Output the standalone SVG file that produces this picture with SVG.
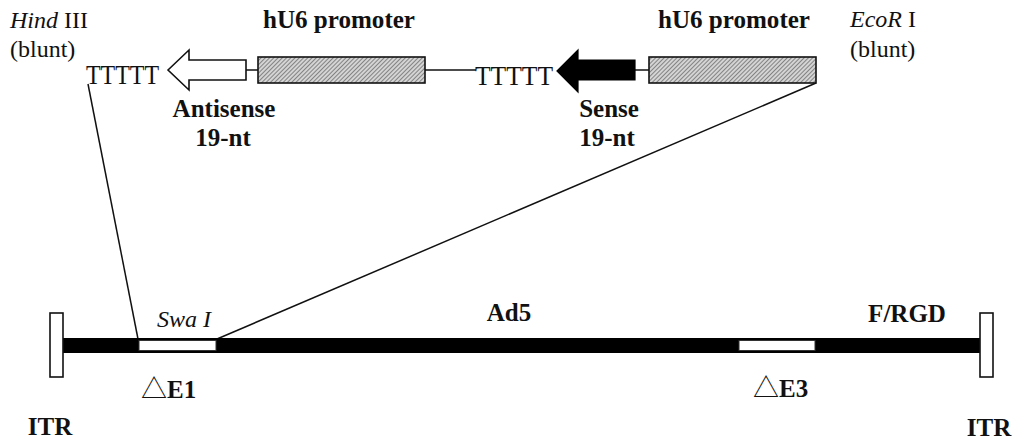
<svg xmlns="http://www.w3.org/2000/svg" width="1019" height="439" viewBox="0 0 1019 439">
  <defs>
    <pattern id="hatch" width="3" height="3" patternUnits="userSpaceOnUse" patternTransform="rotate(45)">
      <rect width="3" height="3" fill="#d4d4d4"/>
      <line x1="0" y1="0" x2="0" y2="3" stroke="#404040" stroke-width="1.1"/>
    </pattern>
  </defs>
  <style>
    text { font-family: "Liberation Serif", "Times New Roman", serif; fill: #111; }
    .lbl { font-size: 24px; }
    .b { font-weight: bold; font-size: 25px; }
    .it { font-style: italic; }
    .tt { font-size: 28px; }
    .tri { font-family: "Noto Sans CJK SC", "DejaVu Sans", sans-serif; font-size: 26px; font-weight: normal; }
    .wire { stroke: #111; stroke-width: 1.5; fill: none; }
    .promoter { fill: url(#hatch); stroke: #111; stroke-width: 1.6; }
    .box { fill: #fff; stroke: #111; stroke-width: 1.6; }
  </style>

  <!-- connectors: linkers, insert-to-vector lines -->
  <g id="connectors">
    <line class="wire" x1="246" y1="70" x2="258" y2="70"/>
    <line class="wire" x1="425" y1="70" x2="476" y2="70"/>
    <line class="wire" x1="635" y1="70" x2="649" y2="70"/>
    <line class="wire" x1="88" y1="84" x2="138" y2="339"/>
    <line class="wire" x1="816" y1="83" x2="217" y2="339"/>
  </g>

  <!-- shRNA cassette (antisense) -->
  <g id="hind-site">
    <text class="lbl" x="10" y="28"><tspan class="it">Hind</tspan> III</text>
    <text class="lbl" x="10" y="57">(blunt)</text>
  </g>
  <g id="polyT-antisense">
    <text class="tt" x="86" y="84" textLength="73" lengthAdjust="spacingAndGlyphs">TTTTT</text>
  </g>
  <g id="antisense-arrow">
    <polygon class="box" points="168,70 189,50 189,60 246,60 246,80 189,80 189,90"/>
    <text class="b" x="224" y="117" text-anchor="middle">Antisense</text>
    <text class="b" x="223" y="146" text-anchor="middle">19-nt</text>
  </g>
  <g id="promoter-antisense">
    <rect class="promoter" x="258" y="57" width="167" height="26"/>
    <text class="b" x="339" y="28" text-anchor="middle" textLength="152" lengthAdjust="spacingAndGlyphs">hU6 promoter</text>
  </g>

  <!-- shRNA cassette (sense) -->
  <g id="polyT-sense">
    <text class="tt" x="475" y="85" textLength="78" lengthAdjust="spacingAndGlyphs">TTTTT</text>
  </g>
  <g id="sense-arrow">
    <polygon fill="#000" stroke="#000" stroke-width="1.2" points="557,71 578,50 578,60 635,60 635,80 578,80 578,92"/>
    <text class="b" x="609" y="117" text-anchor="middle">Sense</text>
    <text class="b" x="607" y="146" text-anchor="middle">19-nt</text>
  </g>
  <g id="promoter-sense">
    <rect class="promoter" x="649" y="57" width="167" height="26"/>
    <text class="b" x="734" y="28" text-anchor="middle" textLength="152" lengthAdjust="spacingAndGlyphs">hU6 promoter</text>
  </g>
  <g id="ecor-site">
    <text class="lbl" x="850" y="27"><tspan class="it">EcoR</tspan> I</text>
    <text class="lbl" x="850" y="57">(blunt)</text>
  </g>

  <!-- adenoviral vector backbone -->
  <g id="backbone">
    <rect x="63" y="338" width="917" height="15" fill="#000"/>
    <text class="b" x="509" y="321" text-anchor="middle">Ad5</text>
    <text class="b" x="907" y="322" text-anchor="middle" font-size="24">F/RGD</text>
  </g>
  <g id="e1-deletion">
    <rect x="139" y="340.5" width="77" height="10" fill="#fff" stroke="#333" stroke-width="1"/>
    <text class="lbl it" x="184" y="327" text-anchor="middle">Swa I</text>
    <text class="b" x="141" y="398"><tspan class="tri">△</tspan><tspan>E1</tspan></text>
  </g>
  <g id="e3-deletion">
    <rect x="739" y="340.5" width="76" height="10" fill="#fff" stroke="#333" stroke-width="1"/>
    <text class="b" x="753" y="397"><tspan class="tri">△</tspan><tspan>E3</tspan></text>
  </g>
  <g id="itr-left">
    <rect class="box" x="50" y="313" width="13" height="64"/>
    <text class="b" x="50" y="435" text-anchor="middle">ITR</text>
  </g>
  <g id="itr-right">
    <rect class="box" x="980" y="313" width="13" height="64"/>
    <text class="b" x="989" y="436" text-anchor="middle">ITR</text>
  </g>
</svg>
